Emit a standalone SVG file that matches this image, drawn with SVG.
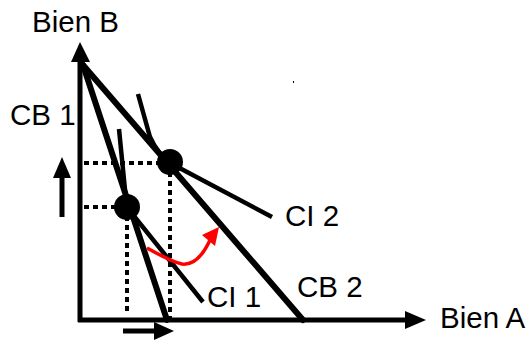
<svg xmlns="http://www.w3.org/2000/svg" width="532" height="342" viewBox="0 0 532 342">
<style>
text{font-family:"Liberation Sans",Arial,sans-serif;font-size:29.5px;fill:#000}
.ax{stroke:#000;stroke-width:5;fill:none}
.cb{stroke:#000;stroke-width:6;fill:none;stroke-linecap:round}
.ci{stroke:#000;stroke-width:4.5;fill:none}
.dot{stroke:#000;stroke-width:4;stroke-dasharray:5 4;fill:none}
</style>
<rect width="532" height="342" fill="#fff"/>
<g id="axes">
<line class="ax" x1="80" y1="322" x2="80" y2="58"/>
<polygon points="80,42 71,62 90,62"/>
<line class="ax" x1="78" y1="320" x2="408" y2="320"/>
<polygon points="426,320 405,311 405,329"/>
</g>
<g id="connectors">
<line class="dot" x1="84" y1="163" x2="169" y2="163"/>
<line class="dot" x1="84" y1="207" x2="127" y2="207"/>
<line class="dot" x1="127" y1="207" x2="127" y2="312"/>
<line class="dot" x1="170" y1="163" x2="170" y2="322"/>
</g>
<g id="CB1"><line class="cb" x1="83" y1="65" x2="167" y2="320"/></g>
<g id="CB2"><line class="cb" x1="83" y1="65" x2="303" y2="320"/></g>
<g id="CI1"><path class="ci" d="M119,129 L126,200 Q128,210 134,216 L203,302"/></g>
<g id="CI2"><path class="ci" d="M138,94 L150,137 Q158,155 172,164 L272,217"/></g>
<g id="dots">
<circle cx="127" cy="207" r="13"/>
<circle cx="170" cy="162" r="13"/>
</g>
<g id="arrows">
<line x1="62" y1="217" x2="62" y2="175" stroke="#000" stroke-width="5"/>
<polygon points="62,157 53,178 71,178"/>
<line x1="123" y1="331" x2="156" y2="331" stroke="#000" stroke-width="5"/>
<polygon points="174,331 154,322 154,340"/>
<path d="M147,248 Q172,262 182,264 Q198,266 210,240" stroke="#ff0000" stroke-width="3.5" fill="none"/>
<polygon points="219,227 202,235 215,246" fill="#ff0000"/>
</g>
<rect x="293" y="81" width="1" height="2" fill="#000"/>
<g id="labels">
<text x="32" y="32">Bien B</text>
<text x="10" y="125">CB 1</text>
<text x="285" y="226">CI 2</text>
<text x="207" y="307">CI 1</text>
<text x="297" y="297">CB 2</text>
<text x="440" y="328">Bien A</text>
</g>
</svg>
